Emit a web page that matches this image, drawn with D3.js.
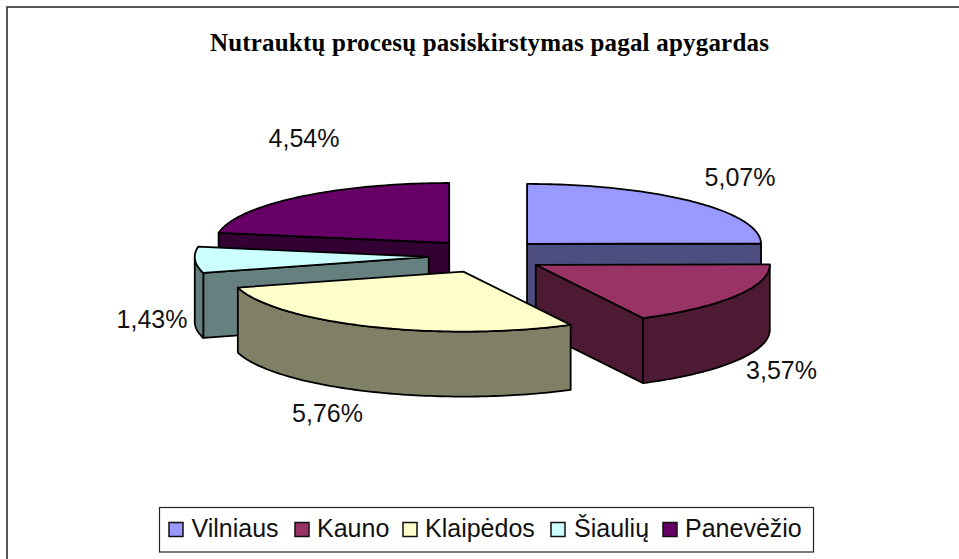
<!DOCTYPE html>
<html><head><meta charset="utf-8">
<script src="https://cdn.jsdelivr.net/npm/d3@7"></script>
<style>html,body{margin:0;padding:0;background:#fff}svg{display:block}</style>
</head><body><svg id="c" width="959" height="559"></svg>
<script>
const categories = ["Vilniaus","Kauno","Klaipėdos","Šiaulių","Panevėžio"];
const values = [5.07,3.57,5.76,1.43,4.54];
const valueLabels = ["5,07%","3,57%","5,76%","1,43%","4,54%"];
const topColors = ["#9999FF","#993366","#FFFFCC","#CCFFFF","#660066"];
const sideColors = ["#4D4D80","#4D1A33","#808066","#668080","#330033"];
const labelAnchors = [[740,186],[781.5,379],[327.5,422],[152,328],[304,147]];
const legendSwatchX = [169,295,403,551,663];
const legendTextX = [191.5,317,425,574,685];
const paintOrder = [4,0,3,1,2];

const svg = d3.select("#c");
const cx=486.4, cy=256, rx=234, ry=60, depth=65, exX=57.7, exY=17;
const FS=25, sans="'Liberation Sans',Arial,sans-serif";

svg.append("path").attr("d","M7 559V7H959").attr("fill","none").attr("stroke","#222").attr("stroke-width",1.5);

svg.append("text").attr("x",489.5).attr("y",51).attr("text-anchor","middle")
 .attr("font-family","'Liberation Serif','Times New Roman',serif").attr("font-weight","bold")
 .attr("font-size",25).attr("letter-spacing",0.2).text("Nutrauktų procesų pasiskirstymas pagal apygardas");

const arcs = d3.pie().sort(null).startAngle(0).endAngle(2*Math.PI)(values);
const line = d3.line().x(d=>d[0]).y(d=>d[1]);

function sliceGeom(a){
  const mid=(a.startAngle+a.endAngle)/2;
  const ax=cx+exX*Math.sin(mid), ay=cy-exY*Math.cos(mid);
  const pt=(t,dz=0)=>[ax+rx*Math.sin(t), ay-ry*Math.cos(t)+dz];
  return {ax,ay,pt};
}
function arcPts(pt,s,e,dz=0){
  const n=Math.max(2,Math.ceil((e-s)/0.02));
  return d3.range(n+1).map(i=>pt(s+(e-s)*i/n,dz));
}
const gp = svg.append("g").attr("stroke","#000").attr("stroke-width",1.8).attr("stroke-linejoin","round");
paintOrder.forEach(i=>{
  const a=arcs[i], {ax,ay,pt}=sliceGeom(a), s=a.startAngle, e=a.endAngle;
  const side=sideColors[i];
  const quad=(t)=>{const p=pt(t);return [[ax,ay],p,[p[0],p[1]+depth],[ax,ay+depth]];};
  if(Math.sin(s)<-1e-6) gp.append("path").attr("d",line(quad(s))+"Z").attr("fill",side);
  if(Math.sin(e)>1e-6) gp.append("path").attr("d",line(quad(e))+"Z").attr("fill",side);
  const fs=Math.max(s,Math.PI/2), fe=Math.min(e,3*Math.PI/2);
  if(fe>fs){
    const top=arcPts(pt,fs,fe), bot=arcPts(pt,fs,fe,depth).reverse();
    gp.append("path").attr("d",line(top.concat(bot))+"Z").attr("fill",side);
  }
  gp.append("path").attr("d",line([[ax,ay]].concat(arcPts(pt,s,e)))+"Z").attr("fill",topColors[i]);
});

svg.append("g").selectAll("text").data(valueLabels).join("text")
 .attr("x",(d,i)=>labelAnchors[i][0]).attr("y",(d,i)=>labelAnchors[i][1])
 .attr("text-anchor","middle").attr("font-family",sans).attr("font-size",FS).attr("fill","#111").text(d=>d);

svg.append("rect").attr("x",159.5).attr("y",507.5).attr("width",654).attr("height",44.5).attr("fill","#fff").attr("stroke","#222").attr("stroke-width",1.2);
const lg=svg.append("g");
lg.selectAll("rect").data(categories).join("rect")
 .attr("x",(d,i)=>legendSwatchX[i]).attr("y",522.5).attr("width",14).attr("height",14)
 .attr("fill",(d,i)=>topColors[i]).attr("stroke","#111").attr("stroke-width",1.5);
lg.selectAll("text").data(categories).join("text")
 .attr("x",(d,i)=>legendTextX[i]).attr("y",537).attr("font-family",sans).attr("font-size",FS).attr("fill","#111").text(d=>d);
</script></body></html>
